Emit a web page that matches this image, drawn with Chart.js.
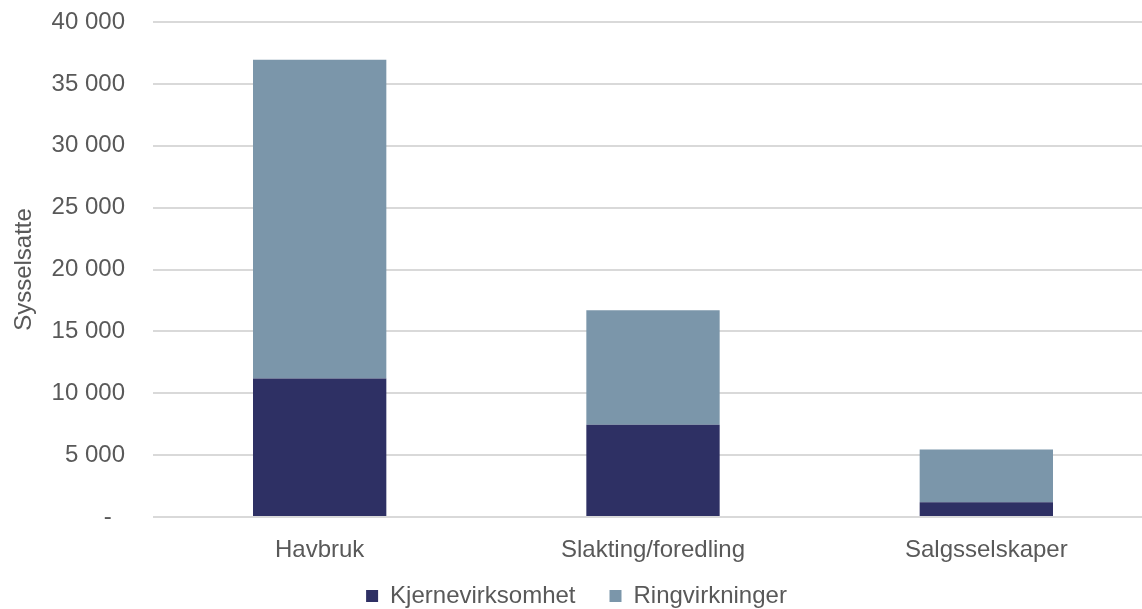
<!DOCTYPE html>
<html>
<head>
<meta charset="utf-8">
<script src="https://cdn.jsdelivr.net/npm/chart.js"></script>
<style>
  html, body { margin: 0; padding: 0; background: #fff; overflow: hidden; }
  #wrap { width: 1153px; height: 609px; }
</style>
</head>
<body>
<div id="wrap"><canvas id="chart" width="1153" height="609"></canvas></div>
<script>
// Sysselsatte per ledd i verdikjeden
const categories = ['Havbruk', 'Slakting/foredling', 'Salgsselskaper'];
const kjerne = [11200, 7450, 1200];
const ring = [25750, 9250, 4250];
const yTicks = [0, 5000, 10000, 15000, 20000, 25000, 30000, 35000, 40000];

function fmt(v){
    if (v === 0) return '-  ';
    return String(v).replace(/\B(?=(\d{3})+(?!\d))/g, ' ');
}

const textColor = '#595959';
const font = { family: '"Liberation Sans", Arial, sans-serif', size: 24 };

new Chart(document.getElementById('chart'), {
    type: 'bar',
    data: {
        labels: categories,
        datasets: [
            { label: 'Kjernevirksomhet', data: kjerne, backgroundColor: '#2e3064' },
            { label: 'Ringvirkninger', data: ring, backgroundColor: '#7b96aa' }
        ]
    },
    options: {
        responsive: false,
        animation: false,
        layout: { padding: { top: 22, left: 0, right: 0, bottom: -9 } },
        datasets: { bar: { categoryPercentage: 0.4, barPercentage: 1 } },
        scales: {
            x: {
                stacked: true,
                grid: { display: false },
                border: { display: false },
                // short box so the legend can sit close; labels are not clipped to it
                afterFit: s => { s.height = 33; s._computeLabelArea = () => null; },
                ticks: { color: textColor, font: font, padding: 11 }
            },
            y: {
                stacked: true,
                min: 0, max: 40000,
                afterBuildTicks: s => { s.ticks = yTicks.map(v => ({ value: v })); },
                afterFit: s => { s.width = 153; s.paddingTop = 0; s.paddingBottom = 0; },
                grid: { color: '#d9d9d9', lineWidth: 2, drawTicks: false },
                border: { display: false },
                ticks: { color: textColor, font: font, padding: 28, callback: v => fmt(v) },
                title: { display: true, text: 'Sysselsatte', color: textColor, font: font, padding: { top: 10, bottom: 0 } }
            }
        },
        plugins: {
            legend: {
                position: 'bottom',
                labels: { color: textColor, font: font, boxWidth: 12, boxHeight: 12, padding: 34 }
            },
            tooltip: { enabled: false }
        }
    }
});
</script>
</body>
</html>
